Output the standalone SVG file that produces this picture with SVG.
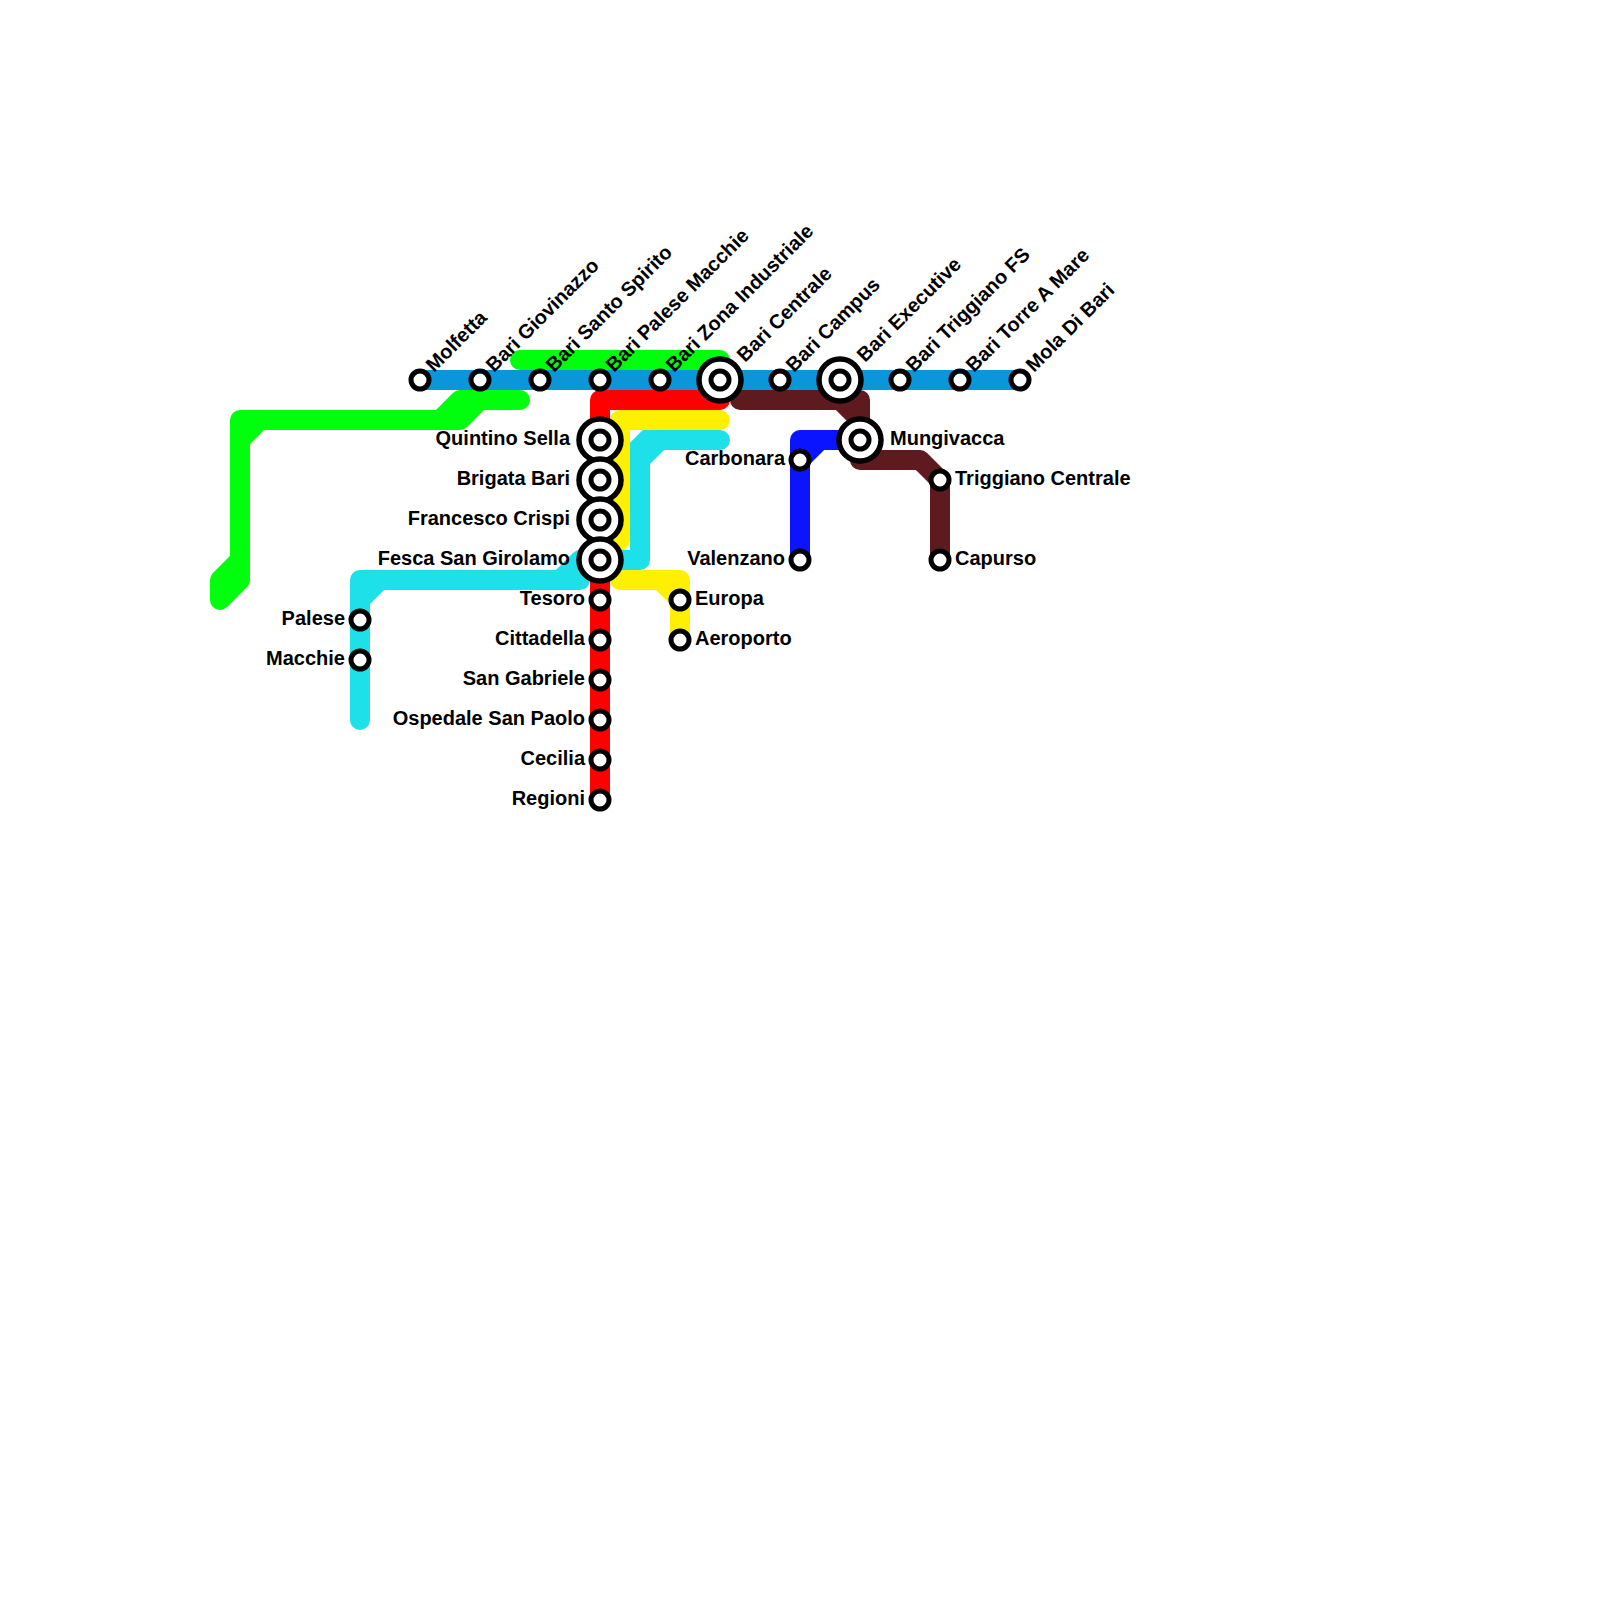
<svg xmlns="http://www.w3.org/2000/svg" width="1600" height="1600" viewBox="0 0 1600 1600">
<style>
.l{fill:none;stroke-width:20;stroke-linecap:round;stroke-linejoin:round}
.g{stroke:#00ff0c}.b{stroke:#0a96d8}.r{stroke:#ff0000}.y{stroke:#ffef00}.c{stroke:#1ee0e8}.m{stroke:#5e1a1e}.d{stroke:#0a14ff}
.s{fill:#fff;stroke:#000;stroke-width:5}
.o{fill:#fff;stroke:#000;stroke-width:5.5}
text{font-family:"Liberation Sans",Arial,sans-serif;font-weight:700;font-size:20px;fill:#000}
.e{text-anchor:end}
</style>
<rect width="1600" height="1600" fill="#fff"/>
<defs>
<g id="st"><circle class="s" r="9"/></g>
<g id="ix"><circle class="o" r="21"/><circle class="s" r="9"/></g>
</defs>
<g id="connectors">
<path class="l g" d="M520 360H720"/>
<path class="l g" d="M520 400H480L460 420H240V580L220 600V580L240 560M520 400H460L440 420M240 440L260 420"/>
<path class="l b" d="M420 380H1020"/>
<path class="l r" d="M720 400H600V800"/>
<path class="l y" d="M720 420H620V540L600 560M620 580H680V640M660 580L680 600"/>
<path class="l c" style="stroke-linejoin:miter" d="M720 440H647L640 447V540"/>
<path class="l c" d="M640 540V560H600M660 440L640 460M360 720V580H580M360 600L380 580M560 580L580 560"/>
<path class="l m" d="M740 400H860V440M840 400L860 420M860 440V460H920L940 480V560"/>
<path class="l d" d="M860 440H800V560M800 460L820 440"/>
</g>
<g id="molfetta"><use href="#st" x="420" y="380"/><text transform="translate(434 373) rotate(-45)">Molfetta</text></g>
<g id="giovinazzo"><use href="#st" x="480" y="380"/><text transform="translate(494 373) rotate(-45)">Bari Giovinazzo</text></g>
<g id="santo-spirito"><use href="#st" x="540" y="380"/><text transform="translate(554 373) rotate(-45)">Bari Santo Spirito</text></g>
<g id="palese-macchie"><use href="#st" x="600" y="380"/><text transform="translate(614 373) rotate(-45)">Bari Palese Macchie</text></g>
<g id="zona-industriale"><use href="#st" x="660" y="380"/><text transform="translate(674 373) rotate(-45)">Bari Zona Industriale</text></g>
<g id="centrale"><use href="#ix" x="720" y="380"/><text transform="translate(745 363) rotate(-45)">Bari Centrale</text></g>
<g id="campus"><use href="#st" x="780" y="380"/><text transform="translate(794 373) rotate(-45)">Bari Campus</text></g>
<g id="executive"><use href="#ix" x="840" y="380"/><text transform="translate(865 363) rotate(-45)">Bari Executive</text></g>
<g id="triggiano-fs"><use href="#st" x="900" y="380"/><text transform="translate(914 373) rotate(-45)">Bari Triggiano FS</text></g>
<g id="torre-a-mare"><use href="#st" x="960" y="380"/><text transform="translate(974 373) rotate(-45)">Bari Torre A Mare</text></g>
<g id="mola"><use href="#st" x="1020" y="380"/><text transform="translate(1034 373) rotate(-45)">Mola Di Bari</text></g>
<g id="quintino-sella"><use href="#ix" x="600" y="440"/><text class="e" x="570" y="445">Quintino Sella</text></g>
<g id="brigata-bari"><use href="#ix" x="600" y="480"/><text class="e" x="570" y="485">Brigata Bari</text></g>
<g id="francesco-crispi"><use href="#ix" x="600" y="520"/><text class="e" x="570" y="525">Francesco Crispi</text></g>
<g id="fesca"><use href="#ix" x="600" y="560"/><text class="e" x="570" y="565">Fesca San Girolamo</text></g>
<g id="tesoro"><use href="#st" x="600" y="600"/><text class="e" x="585" y="605">Tesoro</text></g>
<g id="cittadella"><use href="#st" x="600" y="640"/><text class="e" x="585" y="645">Cittadella</text></g>
<g id="san-gabriele"><use href="#st" x="600" y="680"/><text class="e" x="585" y="685">San Gabriele</text></g>
<g id="ospedale"><use href="#st" x="600" y="720"/><text class="e" x="585" y="725">Ospedale San Paolo</text></g>
<g id="cecilia"><use href="#st" x="600" y="760"/><text class="e" x="585" y="765">Cecilia</text></g>
<g id="regioni"><use href="#st" x="600" y="800"/><text class="e" x="585" y="805">Regioni</text></g>
<g id="palese"><use href="#st" x="360" y="620"/><text class="e" x="345" y="625">Palese</text></g>
<g id="macchie"><use href="#st" x="360" y="660"/><text class="e" x="345" y="665">Macchie</text></g>
<g id="europa"><use href="#st" x="680" y="600"/><text x="695" y="605">Europa</text></g>
<g id="aeroporto"><use href="#st" x="680" y="640"/><text x="695" y="645">Aeroporto</text></g>
<g id="carbonara"><use href="#st" x="800" y="460"/><text class="e" x="785" y="465">Carbonara</text></g>
<g id="valenzano"><use href="#st" x="800" y="560"/><text class="e" x="785" y="565">Valenzano</text></g>
<g id="mungivacca"><use href="#ix" x="860" y="440"/><text x="890" y="445">Mungivacca</text></g>
<g id="triggiano-centrale"><use href="#st" x="940" y="480"/><text x="955" y="485">Triggiano Centrale</text></g>
<g id="capurso"><use href="#st" x="940" y="560"/><text x="955" y="565">Capurso</text></g>
</svg>
